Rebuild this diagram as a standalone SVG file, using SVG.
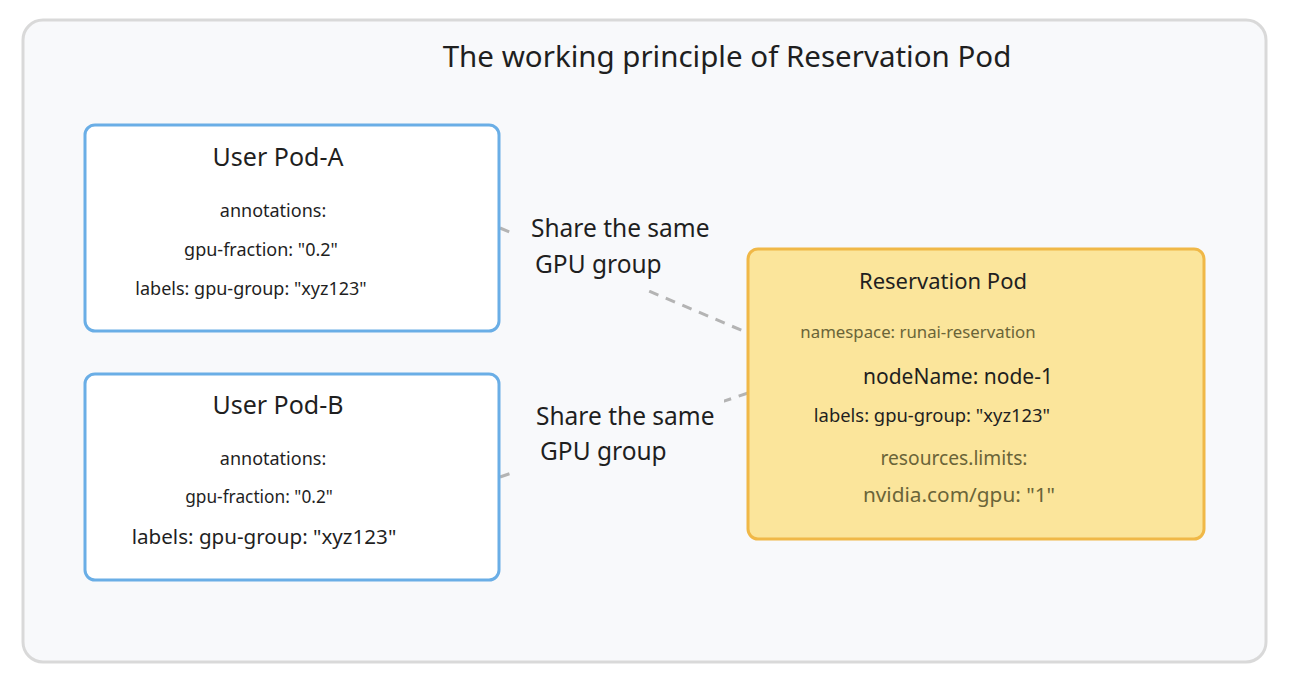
<svg xmlns="http://www.w3.org/2000/svg" width="1296" height="683" viewBox="0 0 1296 683">
<style>
text{font-family:"Noto Sans","Open Sans",sans-serif;fill:#1f1f1f}
.pod{fill:#ffffff;stroke:#6aaee6;stroke-width:3}
.res{fill:#fbe59b;stroke:#f0b847;stroke-width:3}
.h{font-size:25px;text-anchor:middle}
.t{font-size:18px;text-anchor:middle}
.lbl{font-size:24.5px}
.conn{stroke:#b4b4b4;stroke-width:3;stroke-dasharray:10 8;fill:none}
.bg{fill:#f8f9fb}
.olive{fill:#6a6438}
</style>
<rect x="23" y="20" width="1243" height="642" rx="20" fill="#f8f9fb" stroke="#d9d9d9" stroke-width="3"/>
<text x="727" y="67" font-size="29.5" text-anchor="middle">The working principle of Reservation Pod</text>
<g id="connectors">
<line class="conn" x1="500" y1="228" x2="748" y2="333"/>
<line class="conn" x1="500" y1="477" x2="748" y2="393"/>
<rect class="bg" x="514" y="205" width="205" height="85"/>
<rect class="bg" x="514" y="393" width="210" height="82"/>
<text class="lbl" x="531" y="237">Share the same</text>
<text class="lbl" x="535" y="273">GPU group</text>
<text class="lbl" x="536" y="425">Share the same</text>
<text class="lbl" x="540" y="460">GPU group</text>
</g>
<g id="podA">
<rect class="pod" x="85" y="125" width="414" height="206" rx="10"/>
<text class="h" x="278" y="166">User Pod-A</text>
<text class="t" x="273" y="217">annotations:</text>
<text class="t" x="261" y="256">gpu-fraction: "0.2"</text>
<text class="t" x="251" y="295">labels: gpu-group: "xyz123"</text>
</g>
<g id="podB">
<rect class="pod" x="85" y="374" width="414" height="206" rx="10"/>
<text class="h" x="278" y="414">User Pod-B</text>
<text class="t" x="273" y="465">annotations:</text>
<text x="259" y="503" font-size="17.3" text-anchor="middle">gpu-fraction: "0.2"</text>
<text x="264" y="544" font-size="20.6" text-anchor="middle">labels: gpu-group: "xyz123"</text>
</g>
<g id="reservation">
<rect class="res" x="748" y="249" width="456" height="290" rx="10"/>
<text x="943" y="289" font-size="22" text-anchor="middle">Reservation Pod</text>
<text class="olive" x="918" y="338" font-size="16.8" text-anchor="middle">namespace: runai-reservation</text>
<text x="958" y="384" font-size="21" text-anchor="middle">nodeName: node-1</text>
<text x="932" y="422" font-size="18.4" text-anchor="middle" fill="#2a2820">labels: gpu-group: "xyz123"</text>
<text class="olive" x="954" y="465" font-size="19.2" text-anchor="middle">resources.limits:</text>
<text class="olive" x="959" y="502" font-size="20.8" text-anchor="middle">nvidia.com/gpu: "1"</text>
</g>
</svg>
